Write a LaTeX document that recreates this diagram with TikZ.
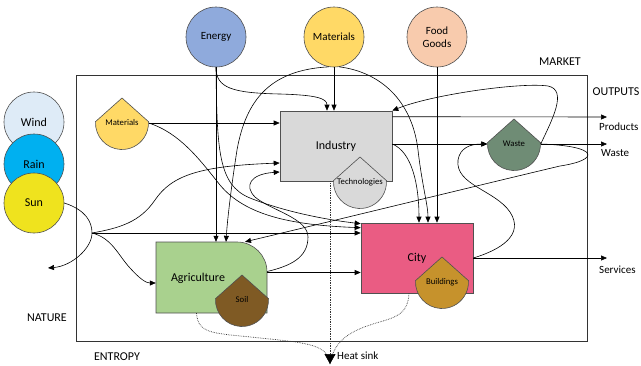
\documentclass[tikz,border=0pt]{standalone}
\usepackage{fontspec}
\setmainfont{Carlito}
\usetikzlibrary{arrows.meta}
\definecolor{energyblue}{HTML}{8FAADC}
\definecolor{matyellow}{HTML}{FFD966}
\definecolor{foodpeach}{HTML}{F8CBAD}
\definecolor{windblue}{HTML}{DEEBF7}
\definecolor{rainblue}{HTML}{00B0F0}
\definecolor{sunyellow}{HTML}{EFE31E}
\definecolor{indgray}{HTML}{D9D9D9}
\definecolor{citypink}{HTML}{EA5C83}
\definecolor{agrigreen}{HTML}{A9D18E}
\definecolor{soilbrown}{HTML}{7F5A24}
\definecolor{buildgold}{HTML}{C6922C}
\definecolor{wastegreen}{HTML}{6F8C75}
\definecolor{edgegray}{HTML}{505050}
\newcommand{\capnode}[4]{%
  \filldraw[shapeline, fill=#3, shift={(#2)}] (0,25) -- (177:26.5) arc[start angle=177, end angle=363, radius=26.5pt] -- cycle;
  \node[captext] (#1) at (#2) {#4};}

\begin{document}
\begin{tikzpicture}[x=1pt, y=1pt, >={Triangle[length=6pt,width=5pt]},
  shapeline/.style={draw=edgegray, line width=0.6pt},
  source/.style={circle, shapeline, minimum size=60pt, inner sep=0pt, font=\fontsize{11}{13}\selectfont},
  nature/.style={circle, shapeline, minimum size=60pt, inner sep=0pt, font=\fontsize{12}{14}\selectfont},
  sector/.style={rectangle, shapeline, minimum width=112pt, minimum height=70pt, font=\fontsize{12}{14}\selectfont},
  captext/.style={circle, minimum size=53pt, inner sep=0pt, font=\fontsize{8.7}{10}\selectfont},
  flow/.style={->, line width=0.6pt},
  heat/.style={densely dotted, line width=0.7pt, draw=black!80},
  tag/.style={font=\fontsize{11}{13}\selectfont, inner sep=0pt},
  zone/.style={font=\fontsize{12}{14}\selectfont, inner sep=0pt}]
	\useasboundingbox (0,0) rectangle (641,-365);
	\draw[line width=0.6pt, draw=black!80] (76,-75) rectangle (587,-341);

	\node[source, fill=energyblue] (energy) at (216,-37) {Energy};
	\node[source, fill=matyellow] (mattop) at (334,-37) {Materials};
	\node[source, fill=foodpeach, align=center] (food) at (437,-37) {Food\\Goods};
	\node[nature, fill=windblue] (wind) at (34,-122) {Wind};
	\node[nature, fill=rainblue] (rain) at (34,-164) {Rain};
	\node[nature, fill=sunyellow] (sun) at (34,-203) {Sun};

	\node[sector, fill=indgray] (industry) at (336,-146) {Industry};
	\capnode{tech}{360,-182}{indgray}{Technologies}
	\node[sector, fill=citypink] (city) at (417,-258) {City};
	\capnode{build}{442,-282}{buildgold}{Buildings}
	\filldraw[shapeline, fill=agrigreen] (156,-313) -- (156,-242) -- (237,-242) arc[start angle=90, end angle=0, radius=30pt] -- (267,-313) -- cycle;
	\node[minimum width=111pt, minimum height=71pt, inner sep=0pt] (agri) at (211.5,-277.5) {};
	\node[font=\fontsize{12}{14}\selectfont, inner sep=0pt] (agrilabel) at (198,-278) {Agriculture};
	\capnode{soil}{242,-300}{soilbrown}{Soil}
	\capnode{waste}{514,-144}{wastegreen}{Waste}
	\capnode{matsmall}{122,-123}{matyellow}{Materials}

	\coordinate (split) at (92,-233);
	\coordinate (natend) at (48,-268);
	\coordinate (prodend) at (607,-117);
	\coordinate (wasteend) at (607,-144);
	\coordinate (servend) at (607,-258);
	\coordinate (sink) at (330,-364);

	\node[zone] (market) at (560,-62) {MARKET};
	\node[zone] (outputs) at (616,-92) {OUTPUTS};
	\node[zone] (naturelabel) at (47,-318) {NATURE};
	\node[zone] (entropy) at (117,-357) {ENTROPY};
	\node[tag, anchor=west] (products) at (599,-127) {Products};
	\node[tag, anchor=west] (wasteout) at (601,-153) {Waste};
	\node[tag, anchor=west] (services) at (599,-270) {Services};
	\node[tag, anchor=west] (heatsink) at (337,-356) {Heat sink};

	\draw[flow] (energy.south) -- (energy.south |- agri.north);
	\draw[flow] (energy.south) .. controls (216,-88) and (232,-93) .. (280,-94) .. controls (315,-95) and (327,-98) .. ([xshift=-9pt]industry.north);
	\draw[flow] (energy.south) .. controls (217,-150) and (218,-185) .. (250,-198) .. controls (280,-210) and (320,-219) .. ([yshift=-1pt]city.north west);
	\draw[flow] (mattop.south) -- (mattop.south |- industry.north);
	\draw[flow] (mattop.260) .. controls (270,-70) and (246,-100) .. (237,-150) .. controls (230,-195) and (227,-225) .. ([xshift=14.5pt]agri.north);
	\draw[flow] (mattop.280) .. controls (380,-72) and (412,-100) .. (418,-150) .. controls (422,-185) and (428,-205) .. ([xshift=11pt]city.north);
	\draw[flow] (food.south) -- (food.south |- city.north);

	\draw[flow] ([yshift=-6pt]industry.north east) -- (prodend);
	\draw[flow] (industry.east |- waste.west) -- (waste.west);
	\draw[flow] (industry.east |- waste.west) .. controls (412,-152) and (419,-185) .. ([xshift=2pt]city.north);
	\draw[flow] (waste.east) -- (wasteend);
	\draw[flow] (waste.east) .. controls (552,-120) and (568,-90) .. (548,-86) .. controls (520,-82) and (430,-95) .. (industry.north east);
	\draw[flow] (waste.east) .. controls (600,-146) and (600,-160) .. (560,-166) .. controls (480,-185) and (320,-224) .. ([xshift=33.5pt]agri.north);
	\draw[flow] (city.east) -- (servend);
	\draw[flow] (city.east) .. controls (500,-250) and (525,-235) .. (510,-212) .. controls (495,-190) and (455,-185) .. (458,-160) .. controls (460,-148) and (470,-144) .. (waste.west);

	\draw[flow] (matsmall.east) -- (matsmall.east -| industry.west);
	\draw[flow] (matsmall.east) .. controls (180,-133) and (200,-160) .. (220,-185) .. controls (245,-215) and (290,-225) .. ([yshift=-5pt]city.north west);

	\draw[flow] (sun.east) .. controls (86,-210) and (92,-222) .. (split) .. controls (92,-248) and (72,-266) .. (natend);
	\draw[flow] (split) -- (split -| city.west);
	\draw[flow] (split) .. controls (120,-228) and (140,-222) .. (155,-200) .. controls (172,-175) and (200,-166) .. ([yshift=-17pt]industry.west);
	\draw[flow] (split) .. controls (112,-238) and (118,-255) .. (130,-268) .. controls (140,-279) and (146,-283) .. ([yshift=-5.5pt]agri.west);

	\draw[flow] ([yshift=5pt]agri.east) -- ([yshift=5pt]agri.east -| city.west);
	\draw[flow] ([yshift=6pt]agri.east) .. controls (290,-266) and (308,-258) .. (308,-237) .. controls (308,-218) and (270,-210) .. (255,-197) .. controls (244,-186) and (250,-174) .. ([yshift=-26pt]industry.west);

	\draw[heat] ([xshift=-15pt]agri.south) .. controls (198,-335) and (215,-333) .. (260,-338) .. controls (310,-343) and (328,-345) .. (sink);
	\draw[heat] ([xshift=-8pt]city.south) .. controls (408,-318) and (390,-318) .. (370,-325) .. controls (345,-333) and (333,-345) .. (sink);
	\draw[heat, -{Triangle[length=10pt,width=11pt,color=black]}] ([xshift=-6pt]industry.south) -- (sink);
\end{tikzpicture}
\end{document}
